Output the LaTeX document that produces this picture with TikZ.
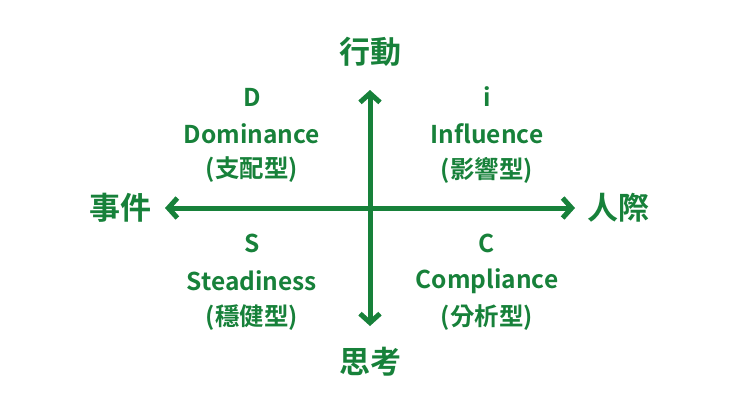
\documentclass[tikz,border=0pt]{standalone}
\usepackage{fontspec}
\setmainfont{Noto Sans CJK TC Bold}
\usetikzlibrary{arrows.meta}
\definecolor{g}{HTML}{17813A}
\begin{document}
\begin{tikzpicture}[x=1pt,y=-1pt,
  ax/.style={g,line width=5pt,{Straight Barb[length=9pt,width=20pt,line width=5pt]}-{Straight Barb[length=9pt,width=20pt,line width=5pt]},line cap=round,line join=round},
  en/.style={text=g,font=\fontsize{24.5}{28}\selectfont,inner sep=0pt},
  cn/.style={text=g,font=\fontsize{31}{34}\selectfont,inner sep=0pt}]
\useasboundingbox (0,0) rectangle (740,416);
\coordinate (top) at (370,90);
\coordinate (bot) at (370,326);
\coordinate (lft) at (165,208);
\coordinate (rgt) at (575,208);
\draw[ax] (top) -- (bot);
\draw[ax] (lft) -- (rgt);
\node[cn] (act) at (370,52) {行動};
\node[cn] (thk) at (370,362) {思考};
\node[cn] (evt) at (120,208) {事件};
\node[cn] (ppl) at (618,208) {人際};
\node[en] (d1) at (252,97) {D};
\node[en] (d2) at (252,134) {Dominance};
\node[en] (d3) at (252,170) {(支配型)};
\node[en] (i1) at (487,97) {i};
\node[en] (i2) at (487,134) {Influence};
\node[en] (i3) at (487,170) {(影響型)};
\node[en] (s1) at (252,243) {S};
\node[en] (s2) at (252,281) {Steadiness};
\node[en] (s3) at (252,318) {(穩健型)};
\node[en] (c1) at (487,243) {C};
\node[en] (c2) at (487,281) {Compliance};
\node[en] (c3) at (487,318) {(分析型)};
\end{tikzpicture}
\end{document}
